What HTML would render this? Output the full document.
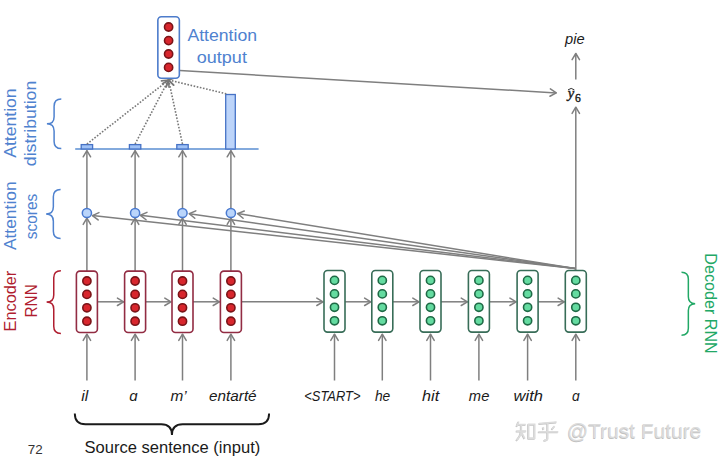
<!DOCTYPE html>
<html><head><meta charset="utf-8"><style>
html,body{margin:0;padding:0;background:#fff;width:720px;height:460px;overflow:hidden}
svg{display:block}
</style></head><body>
<svg width="720" height="460" viewBox="0 0 720 460">
<rect width="720" height="460" fill="#fff"/>
<line x1="97.40" y1="301.80" x2="123.60" y2="301.80" stroke="#7f7f7f" stroke-width="1.5"/><polyline points="117.43,298.09 123.60,301.80 117.43,305.51" fill="none" stroke="#7f7f7f" stroke-width="1.5" stroke-linecap="round" stroke-linejoin="round"/>
<line x1="145.60" y1="301.80" x2="171.00" y2="301.80" stroke="#7f7f7f" stroke-width="1.5"/><polyline points="164.83,298.09 171.00,301.80 164.83,305.51" fill="none" stroke="#7f7f7f" stroke-width="1.5" stroke-linecap="round" stroke-linejoin="round"/>
<line x1="193.00" y1="301.80" x2="219.40" y2="301.80" stroke="#7f7f7f" stroke-width="1.5"/><polyline points="213.23,298.09 219.40,301.80 213.23,305.51" fill="none" stroke="#7f7f7f" stroke-width="1.5" stroke-linecap="round" stroke-linejoin="round"/>
<line x1="241.40" y1="301.80" x2="323.00" y2="301.80" stroke="#7f7f7f" stroke-width="1.5"/><polyline points="316.83,298.09 323.00,301.80 316.83,305.51" fill="none" stroke="#7f7f7f" stroke-width="1.5" stroke-linecap="round" stroke-linejoin="round"/>
<line x1="345.00" y1="301.80" x2="370.80" y2="301.80" stroke="#7f7f7f" stroke-width="1.5"/><polyline points="364.63,298.09 370.80,301.80 364.63,305.51" fill="none" stroke="#7f7f7f" stroke-width="1.5" stroke-linecap="round" stroke-linejoin="round"/>
<line x1="392.80" y1="301.80" x2="419.00" y2="301.80" stroke="#7f7f7f" stroke-width="1.5"/><polyline points="412.83,298.09 419.00,301.80 412.83,305.51" fill="none" stroke="#7f7f7f" stroke-width="1.5" stroke-linecap="round" stroke-linejoin="round"/>
<line x1="441.00" y1="301.80" x2="467.40" y2="301.80" stroke="#7f7f7f" stroke-width="1.5"/><polyline points="461.23,298.09 467.40,301.80 461.23,305.51" fill="none" stroke="#7f7f7f" stroke-width="1.5" stroke-linecap="round" stroke-linejoin="round"/>
<line x1="489.40" y1="301.80" x2="516.10" y2="301.80" stroke="#7f7f7f" stroke-width="1.5"/><polyline points="509.93,298.09 516.10,301.80 509.93,305.51" fill="none" stroke="#7f7f7f" stroke-width="1.5" stroke-linecap="round" stroke-linejoin="round"/>
<line x1="538.10" y1="301.80" x2="564.30" y2="301.80" stroke="#7f7f7f" stroke-width="1.5"/><polyline points="558.13,298.09 564.30,301.80 558.13,305.51" fill="none" stroke="#7f7f7f" stroke-width="1.5" stroke-linecap="round" stroke-linejoin="round"/>
<line x1="86.90" y1="380.50" x2="86.90" y2="334.20" stroke="#7f7f7f" stroke-width="1.5"/><polyline points="83.19,340.37 86.90,334.20 90.61,340.37" fill="none" stroke="#7f7f7f" stroke-width="1.5" stroke-linecap="round" stroke-linejoin="round"/>
<line x1="135.10" y1="380.50" x2="135.10" y2="334.20" stroke="#7f7f7f" stroke-width="1.5"/><polyline points="131.39,340.37 135.10,334.20 138.81,340.37" fill="none" stroke="#7f7f7f" stroke-width="1.5" stroke-linecap="round" stroke-linejoin="round"/>
<line x1="182.50" y1="380.50" x2="182.50" y2="334.20" stroke="#7f7f7f" stroke-width="1.5"/><polyline points="178.79,340.37 182.50,334.20 186.21,340.37" fill="none" stroke="#7f7f7f" stroke-width="1.5" stroke-linecap="round" stroke-linejoin="round"/>
<line x1="230.90" y1="380.50" x2="230.90" y2="334.20" stroke="#7f7f7f" stroke-width="1.5"/><polyline points="227.19,340.37 230.90,334.20 234.61,340.37" fill="none" stroke="#7f7f7f" stroke-width="1.5" stroke-linecap="round" stroke-linejoin="round"/>
<line x1="334.50" y1="380.50" x2="334.50" y2="334.20" stroke="#7f7f7f" stroke-width="1.5"/><polyline points="330.79,340.37 334.50,334.20 338.21,340.37" fill="none" stroke="#7f7f7f" stroke-width="1.5" stroke-linecap="round" stroke-linejoin="round"/>
<line x1="382.30" y1="380.50" x2="382.30" y2="334.20" stroke="#7f7f7f" stroke-width="1.5"/><polyline points="378.59,340.37 382.30,334.20 386.01,340.37" fill="none" stroke="#7f7f7f" stroke-width="1.5" stroke-linecap="round" stroke-linejoin="round"/>
<line x1="430.50" y1="380.50" x2="430.50" y2="334.20" stroke="#7f7f7f" stroke-width="1.5"/><polyline points="426.79,340.37 430.50,334.20 434.21,340.37" fill="none" stroke="#7f7f7f" stroke-width="1.5" stroke-linecap="round" stroke-linejoin="round"/>
<line x1="478.90" y1="380.50" x2="478.90" y2="334.20" stroke="#7f7f7f" stroke-width="1.5"/><polyline points="475.19,340.37 478.90,334.20 482.61,340.37" fill="none" stroke="#7f7f7f" stroke-width="1.5" stroke-linecap="round" stroke-linejoin="round"/>
<line x1="527.60" y1="380.50" x2="527.60" y2="334.20" stroke="#7f7f7f" stroke-width="1.5"/><polyline points="523.89,340.37 527.60,334.20 531.31,340.37" fill="none" stroke="#7f7f7f" stroke-width="1.5" stroke-linecap="round" stroke-linejoin="round"/>
<line x1="575.80" y1="380.50" x2="575.80" y2="334.20" stroke="#7f7f7f" stroke-width="1.5"/><polyline points="572.09,340.37 575.80,334.20 579.51,340.37" fill="none" stroke="#7f7f7f" stroke-width="1.5" stroke-linecap="round" stroke-linejoin="round"/>
<line x1="86.90" y1="271.10" x2="86.90" y2="218.20" stroke="#7f7f7f" stroke-width="1.5"/><polyline points="83.19,224.37 86.90,218.20 90.61,224.37" fill="none" stroke="#7f7f7f" stroke-width="1.5" stroke-linecap="round" stroke-linejoin="round"/>
<line x1="86.90" y1="208.40" x2="86.90" y2="150.60" stroke="#7f7f7f" stroke-width="1.5"/><polyline points="83.19,156.77 86.90,150.60 90.61,156.77" fill="none" stroke="#7f7f7f" stroke-width="1.5" stroke-linecap="round" stroke-linejoin="round"/>
<line x1="135.10" y1="271.10" x2="135.10" y2="218.20" stroke="#7f7f7f" stroke-width="1.5"/><polyline points="131.39,224.37 135.10,218.20 138.81,224.37" fill="none" stroke="#7f7f7f" stroke-width="1.5" stroke-linecap="round" stroke-linejoin="round"/>
<line x1="135.10" y1="208.40" x2="135.10" y2="150.60" stroke="#7f7f7f" stroke-width="1.5"/><polyline points="131.39,156.77 135.10,150.60 138.81,156.77" fill="none" stroke="#7f7f7f" stroke-width="1.5" stroke-linecap="round" stroke-linejoin="round"/>
<line x1="182.50" y1="271.10" x2="182.50" y2="218.20" stroke="#7f7f7f" stroke-width="1.5"/><polyline points="178.79,224.37 182.50,218.20 186.21,224.37" fill="none" stroke="#7f7f7f" stroke-width="1.5" stroke-linecap="round" stroke-linejoin="round"/>
<line x1="182.50" y1="208.40" x2="182.50" y2="150.60" stroke="#7f7f7f" stroke-width="1.5"/><polyline points="178.79,156.77 182.50,150.60 186.21,156.77" fill="none" stroke="#7f7f7f" stroke-width="1.5" stroke-linecap="round" stroke-linejoin="round"/>
<line x1="230.90" y1="271.10" x2="230.90" y2="218.20" stroke="#7f7f7f" stroke-width="1.5"/><polyline points="227.19,224.37 230.90,218.20 234.61,224.37" fill="none" stroke="#7f7f7f" stroke-width="1.5" stroke-linecap="round" stroke-linejoin="round"/>
<line x1="230.90" y1="208.40" x2="230.90" y2="150.60" stroke="#7f7f7f" stroke-width="1.5"/><polyline points="227.19,156.77 230.90,150.60 234.61,156.77" fill="none" stroke="#7f7f7f" stroke-width="1.5" stroke-linecap="round" stroke-linejoin="round"/>
<line x1="575.20" y1="268.60" x2="92.40" y2="215.60" stroke="#7f7f7f" stroke-width="1.5"/><polyline points="98.13,219.96 92.40,215.60 98.94,212.59" fill="none" stroke="#7f7f7f" stroke-width="1.5" stroke-linecap="round" stroke-linejoin="round"/>
<line x1="575.20" y1="268.60" x2="140.40" y2="215.30" stroke="#7f7f7f" stroke-width="1.5"/><polyline points="146.07,219.73 140.40,215.30 146.98,212.37" fill="none" stroke="#7f7f7f" stroke-width="1.5" stroke-linecap="round" stroke-linejoin="round"/>
<line x1="575.20" y1="268.60" x2="189.20" y2="213.70" stroke="#7f7f7f" stroke-width="1.5"/><polyline points="194.79,218.24 189.20,213.70 195.83,210.90" fill="none" stroke="#7f7f7f" stroke-width="1.5" stroke-linecap="round" stroke-linejoin="round"/>
<line x1="575.20" y1="268.60" x2="237.60" y2="213.60" stroke="#7f7f7f" stroke-width="1.5"/><polyline points="243.10,218.25 237.60,213.60 244.29,210.93" fill="none" stroke="#7f7f7f" stroke-width="1.5" stroke-linecap="round" stroke-linejoin="round"/>
<line x1="575.80" y1="270.50" x2="575.80" y2="107.20" stroke="#7f7f7f" stroke-width="1.5"/><polyline points="572.09,113.37 575.80,107.20 579.51,113.37" fill="none" stroke="#7f7f7f" stroke-width="1.5" stroke-linecap="round" stroke-linejoin="round"/>
<line x1="575.80" y1="79.50" x2="575.80" y2="53.50" stroke="#7f7f7f" stroke-width="1.5"/><polyline points="572.09,59.67 575.80,53.50 579.51,59.67" fill="none" stroke="#7f7f7f" stroke-width="1.5" stroke-linecap="round" stroke-linejoin="round"/>
<line x1="179.80" y1="70.60" x2="556.30" y2="92.90" stroke="#7f7f7f" stroke-width="1.5"/><polyline points="550.36,88.83 556.30,92.90 549.92,96.24" fill="none" stroke="#7f7f7f" stroke-width="1.5" stroke-linecap="round" stroke-linejoin="round"/>
<line x1="75.20" y1="149.00" x2="258.60" y2="149.00" stroke="#5a8ed2" stroke-width="1.7"/>
<rect x="81.20" y="144.6" width="11.4" height="4.4" fill="#9fc2f6" stroke="#4672c6" stroke-width="1.3"/>
<rect x="129.40" y="144.6" width="11.4" height="4.4" fill="#9fc2f6" stroke="#4672c6" stroke-width="1.3"/>
<rect x="176.80" y="144.6" width="11.4" height="4.4" fill="#9fc2f6" stroke="#4672c6" stroke-width="1.3"/>
<rect x="225.70" y="94.5" width="9.6" height="54.5" fill="#bcd4fa" stroke="#4672c6" stroke-width="1.3"/>
<line x1="86.90" y1="144.00" x2="168.60" y2="80.00" stroke="#787878" stroke-width="1.6" stroke-dasharray="1.6 1.6"/><polyline points="161.45,80.89 168.60,80.00 166.03,86.73" fill="none" stroke="#787878" stroke-width="1.6" stroke-linecap="round" stroke-linejoin="round"/>
<line x1="135.10" y1="144.00" x2="168.60" y2="80.00" stroke="#787878" stroke-width="1.6" stroke-dasharray="1.6 1.6"/><polyline points="162.45,83.75 168.60,80.00 169.02,87.19" fill="none" stroke="#787878" stroke-width="1.6" stroke-linecap="round" stroke-linejoin="round"/>
<line x1="182.50" y1="144.00" x2="168.60" y2="80.00" stroke="#787878" stroke-width="1.6" stroke-dasharray="1.6 1.6"/><polyline points="166.29,86.82 168.60,80.00 173.53,85.24" fill="none" stroke="#787878" stroke-width="1.6" stroke-linecap="round" stroke-linejoin="round"/>
<line x1="226.30" y1="93.80" x2="168.60" y2="80.00" stroke="#787878" stroke-width="1.6" stroke-dasharray="1.6 1.6"/><polyline points="173.74,85.04 168.60,80.00 175.46,77.83" fill="none" stroke="#787878" stroke-width="1.6" stroke-linecap="round" stroke-linejoin="round"/>
<circle cx="86.90" cy="213.0" r="4.6" fill="#bad5fb" stroke="#4a7ad0" stroke-width="1.5"/>
<circle cx="135.10" cy="213.0" r="4.6" fill="#bad5fb" stroke="#4a7ad0" stroke-width="1.5"/>
<circle cx="182.50" cy="213.0" r="4.6" fill="#bad5fb" stroke="#4a7ad0" stroke-width="1.5"/>
<circle cx="230.90" cy="213.0" r="4.6" fill="#bad5fb" stroke="#4a7ad0" stroke-width="1.5"/>
<rect x="76.40" y="271.10" width="21" height="61.40" rx="3.5" ry="3.5" fill="#fff" stroke="#922c43" stroke-width="1.6"/><circle cx="86.90" cy="281.00" r="4.1" fill="#d8262d" stroke="#7a1418" stroke-width="1.6"/><circle cx="86.90" cy="294.40" r="4.1" fill="#d8262d" stroke="#7a1418" stroke-width="1.6"/><circle cx="86.90" cy="307.80" r="4.1" fill="#d8262d" stroke="#7a1418" stroke-width="1.6"/><circle cx="86.90" cy="321.20" r="4.1" fill="#d8262d" stroke="#7a1418" stroke-width="1.6"/>
<rect x="124.60" y="271.10" width="21" height="61.40" rx="3.5" ry="3.5" fill="#fff" stroke="#922c43" stroke-width="1.6"/><circle cx="135.10" cy="281.00" r="4.1" fill="#d8262d" stroke="#7a1418" stroke-width="1.6"/><circle cx="135.10" cy="294.40" r="4.1" fill="#d8262d" stroke="#7a1418" stroke-width="1.6"/><circle cx="135.10" cy="307.80" r="4.1" fill="#d8262d" stroke="#7a1418" stroke-width="1.6"/><circle cx="135.10" cy="321.20" r="4.1" fill="#d8262d" stroke="#7a1418" stroke-width="1.6"/>
<rect x="172.00" y="271.10" width="21" height="61.40" rx="3.5" ry="3.5" fill="#fff" stroke="#922c43" stroke-width="1.6"/><circle cx="182.50" cy="281.00" r="4.1" fill="#d8262d" stroke="#7a1418" stroke-width="1.6"/><circle cx="182.50" cy="294.40" r="4.1" fill="#d8262d" stroke="#7a1418" stroke-width="1.6"/><circle cx="182.50" cy="307.80" r="4.1" fill="#d8262d" stroke="#7a1418" stroke-width="1.6"/><circle cx="182.50" cy="321.20" r="4.1" fill="#d8262d" stroke="#7a1418" stroke-width="1.6"/>
<rect x="220.40" y="271.10" width="21" height="61.40" rx="3.5" ry="3.5" fill="#fff" stroke="#922c43" stroke-width="1.6"/><circle cx="230.90" cy="281.00" r="4.1" fill="#d8262d" stroke="#7a1418" stroke-width="1.6"/><circle cx="230.90" cy="294.40" r="4.1" fill="#d8262d" stroke="#7a1418" stroke-width="1.6"/><circle cx="230.90" cy="307.80" r="4.1" fill="#d8262d" stroke="#7a1418" stroke-width="1.6"/><circle cx="230.90" cy="321.20" r="4.1" fill="#d8262d" stroke="#7a1418" stroke-width="1.6"/>
<rect x="324.00" y="270.50" width="21" height="61.60" rx="3.5" ry="3.5" fill="#fff" stroke="#386d58" stroke-width="1.6"/><circle cx="334.50" cy="280.40" r="4.1" fill="#64dba0" stroke="#1f6a46" stroke-width="1.6"/><circle cx="334.50" cy="293.90" r="4.1" fill="#64dba0" stroke="#1f6a46" stroke-width="1.6"/><circle cx="334.50" cy="307.30" r="4.1" fill="#64dba0" stroke="#1f6a46" stroke-width="1.6"/><circle cx="334.50" cy="320.80" r="4.1" fill="#64dba0" stroke="#1f6a46" stroke-width="1.6"/>
<rect x="371.80" y="270.50" width="21" height="61.60" rx="3.5" ry="3.5" fill="#fff" stroke="#386d58" stroke-width="1.6"/><circle cx="382.30" cy="280.40" r="4.1" fill="#64dba0" stroke="#1f6a46" stroke-width="1.6"/><circle cx="382.30" cy="293.90" r="4.1" fill="#64dba0" stroke="#1f6a46" stroke-width="1.6"/><circle cx="382.30" cy="307.30" r="4.1" fill="#64dba0" stroke="#1f6a46" stroke-width="1.6"/><circle cx="382.30" cy="320.80" r="4.1" fill="#64dba0" stroke="#1f6a46" stroke-width="1.6"/>
<rect x="420.00" y="270.50" width="21" height="61.60" rx="3.5" ry="3.5" fill="#fff" stroke="#386d58" stroke-width="1.6"/><circle cx="430.50" cy="280.40" r="4.1" fill="#64dba0" stroke="#1f6a46" stroke-width="1.6"/><circle cx="430.50" cy="293.90" r="4.1" fill="#64dba0" stroke="#1f6a46" stroke-width="1.6"/><circle cx="430.50" cy="307.30" r="4.1" fill="#64dba0" stroke="#1f6a46" stroke-width="1.6"/><circle cx="430.50" cy="320.80" r="4.1" fill="#64dba0" stroke="#1f6a46" stroke-width="1.6"/>
<rect x="468.40" y="270.50" width="21" height="61.60" rx="3.5" ry="3.5" fill="#fff" stroke="#386d58" stroke-width="1.6"/><circle cx="478.90" cy="280.40" r="4.1" fill="#64dba0" stroke="#1f6a46" stroke-width="1.6"/><circle cx="478.90" cy="293.90" r="4.1" fill="#64dba0" stroke="#1f6a46" stroke-width="1.6"/><circle cx="478.90" cy="307.30" r="4.1" fill="#64dba0" stroke="#1f6a46" stroke-width="1.6"/><circle cx="478.90" cy="320.80" r="4.1" fill="#64dba0" stroke="#1f6a46" stroke-width="1.6"/>
<rect x="517.10" y="270.50" width="21" height="61.60" rx="3.5" ry="3.5" fill="#fff" stroke="#386d58" stroke-width="1.6"/><circle cx="527.60" cy="280.40" r="4.1" fill="#64dba0" stroke="#1f6a46" stroke-width="1.6"/><circle cx="527.60" cy="293.90" r="4.1" fill="#64dba0" stroke="#1f6a46" stroke-width="1.6"/><circle cx="527.60" cy="307.30" r="4.1" fill="#64dba0" stroke="#1f6a46" stroke-width="1.6"/><circle cx="527.60" cy="320.80" r="4.1" fill="#64dba0" stroke="#1f6a46" stroke-width="1.6"/>
<rect x="565.30" y="270.50" width="21" height="61.60" rx="3.5" ry="3.5" fill="#fff" stroke="#386d58" stroke-width="1.6"/><circle cx="575.80" cy="280.40" r="4.1" fill="#64dba0" stroke="#1f6a46" stroke-width="1.6"/><circle cx="575.80" cy="293.90" r="4.1" fill="#64dba0" stroke="#1f6a46" stroke-width="1.6"/><circle cx="575.80" cy="307.30" r="4.1" fill="#64dba0" stroke="#1f6a46" stroke-width="1.6"/><circle cx="575.80" cy="320.80" r="4.1" fill="#64dba0" stroke="#1f6a46" stroke-width="1.6"/>
<rect x="157.85" y="16.80" width="21.5" height="61.40" rx="3.5" ry="3.5" fill="#fff" stroke="#4d7ccb" stroke-width="1.6"/><circle cx="168.60" cy="27.00" r="4.1" fill="#d8262d" stroke="#7a1418" stroke-width="1.6"/><circle cx="168.60" cy="40.60" r="4.1" fill="#d8262d" stroke="#7a1418" stroke-width="1.6"/><circle cx="168.60" cy="54.00" r="4.1" fill="#d8262d" stroke="#7a1418" stroke-width="1.6"/><circle cx="168.60" cy="67.40" r="4.1" fill="#d8262d" stroke="#7a1418" stroke-width="1.6"/>
<path d="M61.30,99.10 Q54.10,99.10 54.10,106.30 L54.10,116.65 Q54.10,123.85 46.90,123.85 Q54.10,123.85 54.10,131.05 L54.10,141.40 Q54.10,148.60 61.30,148.60" fill="none" stroke="#4f82cf" stroke-width="1.5"/>
<path d="M60.60,189.40 Q53.35,189.40 53.35,196.65 L53.35,206.75 Q53.35,214.00 46.10,214.00 Q53.35,214.00 53.35,221.25 L53.35,231.35 Q53.35,238.60 60.60,238.60" fill="none" stroke="#4f82cf" stroke-width="1.5"/>
<path d="M60.90,270.70 Q53.75,270.70 53.75,277.85 L53.75,294.95 Q53.75,302.10 46.60,302.10 Q53.75,302.10 53.75,309.25 L53.75,326.35 Q53.75,333.50 60.90,333.50" fill="none" stroke="#b01e30" stroke-width="1.5"/>
<path d="M681.50,272.20 Q688.35,272.20 688.35,279.05 L688.35,296.85 Q688.35,303.70 695.20,303.70 Q688.35,303.70 688.35,310.55 L688.35,328.35 Q688.35,335.20 681.50,335.20" fill="none" stroke="#22a866" stroke-width="1.5"/>
<path d="M74.80,413.60 Q74.80,424.30 85.50,424.30 L161.25,424.30 Q171.95,424.30 171.95,435.00 Q171.95,424.30 182.65,424.30 L258.40,424.30 Q269.10,424.30 269.10,413.60" fill="none" stroke="#1a1a1a" stroke-width="1.9"/>
<text x="187.46" y="40.69" font-family="Liberation Sans, sans-serif" font-size="16.5" fill="#4f82cf" textLength="69.59" lengthAdjust="spacingAndGlyphs" text-anchor="start" id="t_1">Attention</text>
<text x="196.84" y="62.75" font-family="Liberation Sans, sans-serif" font-size="16.5" fill="#4f82cf" textLength="50.06" lengthAdjust="spacingAndGlyphs" text-anchor="start" id="t_2">output</text>
<text x="16.32" y="157.76" font-family="Liberation Sans, sans-serif" font-size="16.5" fill="#4f82cf" textLength="69.41" lengthAdjust="spacingAndGlyphs" text-anchor="start" transform="rotate(-90 16.32 157.76)" id="t_3">Attention</text>
<text x="35.76" y="166.12" font-family="Liberation Sans, sans-serif" font-size="16.5" fill="#4f82cf" textLength="85.4" lengthAdjust="spacingAndGlyphs" text-anchor="start" transform="rotate(-90 35.76 166.12)" id="t_4">distribution</text>
<text x="16.08" y="250.08" font-family="Liberation Sans, sans-serif" font-size="16.5" fill="#4f82cf" textLength="68.7" lengthAdjust="spacingAndGlyphs" text-anchor="start" transform="rotate(-90 16.08 250.08)" id="t_5">Attention</text>
<text x="37.01" y="239.18" font-family="Liberation Sans, sans-serif" font-size="16.5" fill="#4f82cf" textLength="45.45" lengthAdjust="spacingAndGlyphs" text-anchor="start" transform="rotate(-90 37.01 239.18)" id="t_6">scores</text>
<text x="16.01" y="331.44" font-family="Liberation Sans, sans-serif" font-size="16.5" fill="#b01e30" textLength="60.76" lengthAdjust="spacingAndGlyphs" text-anchor="start" transform="rotate(-90 16.01 331.44)" id="t_7">Encoder</text>
<text x="37.31" y="317.38" font-family="Liberation Sans, sans-serif" font-size="16.5" fill="#b01e30" textLength="33.05" lengthAdjust="spacingAndGlyphs" text-anchor="start" transform="rotate(-90 37.31 317.38)" id="t_8">RNN</text>
<text x="705.25" y="253.28" font-family="Liberation Sans, sans-serif" font-size="16.5" fill="#22a866" textLength="100.46" lengthAdjust="spacingAndGlyphs" text-anchor="start" transform="rotate(90 705.25 253.28)" id="t_9">Decoder RNN</text>
<text x="81.19" y="400.8" font-family="Liberation Sans, sans-serif" font-size="14.5" fill="#1a1a1a" textLength="6.96" lengthAdjust="spacingAndGlyphs" font-style="italic" text-anchor="start" id="t_10">il</text>
<text x="129.19" y="400.8" font-family="Liberation Sans, sans-serif" font-size="14.5" fill="#1a1a1a" textLength="8.36" lengthAdjust="spacingAndGlyphs" font-style="italic" text-anchor="start" id="t_11">ɑ</text>
<text x="170.49" y="400.8" font-family="Liberation Sans, sans-serif" font-size="14.5" fill="#1a1a1a" textLength="16.24" lengthAdjust="spacingAndGlyphs" font-style="italic" text-anchor="start" id="t_12">m’</text>
<text x="209.05" y="400.8" font-family="Liberation Sans, sans-serif" font-size="14.5" fill="#1a1a1a" textLength="47.59" lengthAdjust="spacingAndGlyphs" font-style="italic" text-anchor="start" id="t_13">entarté</text>
<text x="304.3" y="400.8" font-family="Liberation Sans, sans-serif" font-size="14.5" fill="#1a1a1a" textLength="56.13" lengthAdjust="spacingAndGlyphs" font-style="italic" text-anchor="start" id="t_14">&lt;START&gt;</text>
<text x="374.94" y="400.8" font-family="Liberation Sans, sans-serif" font-size="14.5" fill="#1a1a1a" textLength="15.35" lengthAdjust="spacingAndGlyphs" font-style="italic" text-anchor="start" id="t_15">he</text>
<text x="422.13" y="400.8" font-family="Liberation Sans, sans-serif" font-size="14.5" fill="#1a1a1a" textLength="17.09" lengthAdjust="spacingAndGlyphs" font-style="italic" text-anchor="start" id="t_16">hit</text>
<text x="468.89" y="400.8" font-family="Liberation Sans, sans-serif" font-size="14.5" fill="#1a1a1a" textLength="20.46" lengthAdjust="spacingAndGlyphs" font-style="italic" text-anchor="start" id="t_17">me</text>
<text x="513.59" y="400.8" font-family="Liberation Sans, sans-serif" font-size="14.5" fill="#1a1a1a" textLength="29.32" lengthAdjust="spacingAndGlyphs" font-style="italic" text-anchor="start" id="t_18">with</text>
<text x="571.95" y="400.8" font-family="Liberation Sans, sans-serif" font-size="14.5" fill="#1a1a1a" textLength="7.68" lengthAdjust="spacingAndGlyphs" font-style="italic" text-anchor="start" id="t_19">ɑ</text>
<text x="565.14" y="44.26" font-family="Liberation Sans, sans-serif" font-size="14.5" fill="#1a1a1a" textLength="19.59" lengthAdjust="spacingAndGlyphs" font-style="italic" text-anchor="start" id="t_20">pie</text>
<text x="567.75" y="98.15" font-family="Liberation Serif" font-size="14.5" fill="#1a1a1a" font-style="italic" text-anchor="start" stroke="#1a1a1a" stroke-width="0.4" id="t_21">y</text>
<text x="574.95" y="101.86" font-family="Liberation Serif" font-size="11.5" fill="#1a1a1a" text-anchor="start" stroke="#1a1a1a" stroke-width="0.4" id="t_22">6</text>
<text x="84.47" y="453.09" font-family="Liberation Sans, sans-serif" font-size="16.5" fill="#1a1a1a" textLength="175.78" lengthAdjust="spacingAndGlyphs" text-anchor="start" id="t_23">Source sentence (input)</text>
<text x="27.87" y="454.15" font-family="Liberation Sans, sans-serif" font-size="13" fill="#333" textLength="14.91" lengthAdjust="spacingAndGlyphs" text-anchor="start" id="t_24">72</text>
<path d="M568.0,89.9 Q571.2,86.9 574.4,89.9" fill="none" stroke="#1a1a1a" stroke-width="0.9"/>
<g id="wm"><g transform="translate(-0.6,0.6)"><path d="M518.7,421.5 L516.8,426.4 M517.3,424.6 L525.8,424.6 M516.3,431.1 L526.2,431.1 M521.3,424.6 L521.3,431.5 Q520.6,436.5 516.5,440.4 M521.8,432.6 L524.8,438.6 M528.6,423.6 L528.6,439.0 M528.6,424.4 L534.7,424.4 L534.7,439.0 M528.6,438.2 L534.7,438.2 M539.0,423.5 L556.7,422.0 M543.2,427.0 L543.6,429.6 M554.6,426.1 L552.0,429.3 M538.4,431.9 L558.3,431.9 M547.7,422.7 L547.7,438.6 Q547.6,440.3 544.0,440.2" fill="none" stroke="#c2c2c2" stroke-width="1.7" stroke-linecap="butt"/><text x="567.0" y="438.3" font-family="Liberation Sans, sans-serif" font-size="20" fill="#c2c2c2" textLength="134.5" lengthAdjust="spacingAndGlyphs">@Trust Future</text></g><g transform="translate(0,0)"><path d="M518.7,421.5 L516.8,426.4 M517.3,424.6 L525.8,424.6 M516.3,431.1 L526.2,431.1 M521.3,424.6 L521.3,431.5 Q520.6,436.5 516.5,440.4 M521.8,432.6 L524.8,438.6 M528.6,423.6 L528.6,439.0 M528.6,424.4 L534.7,424.4 L534.7,439.0 M528.6,438.2 L534.7,438.2 M539.0,423.5 L556.7,422.0 M543.2,427.0 L543.6,429.6 M554.6,426.1 L552.0,429.3 M538.4,431.9 L558.3,431.9 M547.7,422.7 L547.7,438.6 Q547.6,440.3 544.0,440.2" fill="none" stroke="#dcdcdc" stroke-width="1.7" stroke-linecap="butt"/><text x="567.0" y="438.3" font-family="Liberation Sans, sans-serif" font-size="20" fill="#dcdcdc" textLength="134.5" lengthAdjust="spacingAndGlyphs">@Trust Future</text></g></g>
</svg></body></html>
